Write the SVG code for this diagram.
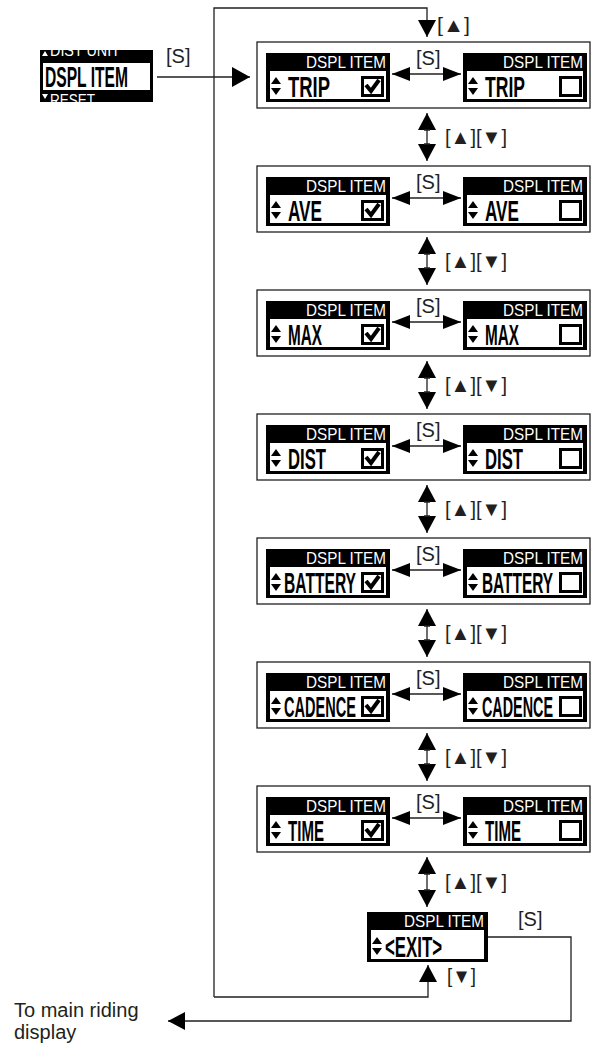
<svg xmlns="http://www.w3.org/2000/svg" xmlns:xlink="http://www.w3.org/1999/xlink" width="592" height="1043" viewBox="0 0 592 1043">
<style>
.frame{fill:#fff;stroke:#231f20;stroke-width:1.3}
.lcd{fill:#000}
.scr{fill:#fff}
.hdr{font-family:"Liberation Sans",Arial,sans-serif;font-size:17px;fill:#fff}
.big{font-family:"Liberation Sans",Arial,sans-serif;font-size:29px;font-weight:bold;fill:#000}
.lbl{font-family:"Liberation Sans",Arial,sans-serif;font-size:20px;fill:#231f20}
.ln{fill:none;stroke:#231f20;stroke-width:1.3}
</style>
<defs>
<marker id="ahS" markerUnits="userSpaceOnUse" markerWidth="18" markerHeight="16" refX="18" refY="8" orient="auto-start-reverse"><path d="M0,1 L18,8 L0,15 Z" fill="#000"/></marker>
<marker id="ahV" markerUnits="userSpaceOnUse" markerWidth="17" markerHeight="18" refX="17" refY="9" orient="auto-start-reverse"><path d="M0,0 L17,9 L0,18 Z" fill="#000"/></marker>
<marker id="ahL" markerUnits="userSpaceOnUse" markerWidth="18" markerHeight="20" refX="18" refY="10" orient="auto"><path d="M0,0 L18,10 L0,20 Z" fill="#000"/></marker>
<g id="ud"><polygon points="0,7 10,7 5,0"/><polygon points="0,11 10,11 5,18"/></g>
<g id="chk"><rect x="1.5" y="1.5" width="20" height="18" fill="#fff" stroke="#000" stroke-width="3"/><polyline points="5,9 10,15 18,4" fill="none" stroke="#000" stroke-width="4"/></g>
<g id="box"><rect x="1.5" y="1.5" width="20" height="18" fill="#fff" stroke="#000" stroke-width="3"/></g>
<clipPath id="c0"><rect x="40" y="50" width="113" height="52"/></clipPath>
</defs>

<g id="menu-start" clip-path="url(#c0)">
<rect class="lcd" x="40" y="50" width="113" height="52"/>
<polygon points="42,56 48,56 45,51" fill="#fff"/>
<text class="hdr" x="50" y="56" textLength="70" lengthAdjust="spacingAndGlyphs">DIST UNIT</text>
<rect class="scr" x="43" y="63" width="107" height="27"/>
<text class="big" x="45" y="87" textLength="83" lengthAdjust="spacingAndGlyphs">DSPL ITEM</text>
<polygon points="42,94 48,94 45,99" fill="#fff"/>
<text class="hdr" x="50" y="106" textLength="45" lengthAdjust="spacingAndGlyphs">RESET</text>
</g>

<g id="row-trip">
<rect class="frame" x="257" y="42" width="333" height="66"/>
<rect class="lcd" x="266" y="53" width="124" height="49"/><rect class="scr" x="270" y="71" width="116" height="28"/>
<text class="hdr" x="306" y="68" textLength="80" lengthAdjust="spacingAndGlyphs">DSPL ITEM</text>
<use href="#ud" x="271" y="77"/><text class="big" x="288" y="97" textLength="42" lengthAdjust="spacingAndGlyphs">TRIP</text><use href="#chk" x="361" y="76"/>
<rect class="lcd" x="463" y="53" width="124" height="49"/><rect class="scr" x="467" y="71" width="116" height="28"/>
<text class="hdr" x="503" y="68" textLength="80" lengthAdjust="spacingAndGlyphs">DSPL ITEM</text>
<use href="#ud" x="468" y="77"/><text class="big" x="485" y="97" textLength="40" lengthAdjust="spacingAndGlyphs">TRIP</text><use href="#box" x="559" y="76"/>
</g>

<g id="row-ave">
<rect class="frame" x="257" y="166" width="333" height="66"/>
<rect class="lcd" x="266" y="177" width="124" height="49"/><rect class="scr" x="270" y="195" width="116" height="28"/>
<text class="hdr" x="306" y="192" textLength="80" lengthAdjust="spacingAndGlyphs">DSPL ITEM</text>
<use href="#ud" x="271" y="201"/><text class="big" x="288" y="221" textLength="34" lengthAdjust="spacingAndGlyphs">AVE</text><use href="#chk" x="361" y="200"/>
<rect class="lcd" x="463" y="177" width="124" height="49"/><rect class="scr" x="467" y="195" width="116" height="28"/>
<text class="hdr" x="503" y="192" textLength="80" lengthAdjust="spacingAndGlyphs">DSPL ITEM</text>
<use href="#ud" x="468" y="201"/><text class="big" x="485" y="221" textLength="34" lengthAdjust="spacingAndGlyphs">AVE</text><use href="#box" x="559" y="200"/>
</g>

<g id="row-max">
<rect class="frame" x="257" y="290" width="333" height="66"/>
<rect class="lcd" x="266" y="301" width="124" height="49"/><rect class="scr" x="270" y="319" width="116" height="28"/>
<text class="hdr" x="306" y="316" textLength="80" lengthAdjust="spacingAndGlyphs">DSPL ITEM</text>
<use href="#ud" x="271" y="325"/><text class="big" x="288" y="345" textLength="34" lengthAdjust="spacingAndGlyphs">MAX</text><use href="#chk" x="361" y="324"/>
<rect class="lcd" x="463" y="301" width="124" height="49"/><rect class="scr" x="467" y="319" width="116" height="28"/>
<text class="hdr" x="503" y="316" textLength="80" lengthAdjust="spacingAndGlyphs">DSPL ITEM</text>
<use href="#ud" x="468" y="325"/><text class="big" x="485" y="345" textLength="34" lengthAdjust="spacingAndGlyphs">MAX</text><use href="#box" x="559" y="324"/>
</g>

<g id="row-dist">
<rect class="frame" x="257" y="414" width="333" height="66"/>
<rect class="lcd" x="266" y="425" width="124" height="49"/><rect class="scr" x="270" y="443" width="116" height="28"/>
<text class="hdr" x="306" y="440" textLength="80" lengthAdjust="spacingAndGlyphs">DSPL ITEM</text>
<use href="#ud" x="271" y="449"/><text class="big" x="288" y="469" textLength="38" lengthAdjust="spacingAndGlyphs">DIST</text><use href="#chk" x="361" y="448"/>
<rect class="lcd" x="463" y="425" width="124" height="49"/><rect class="scr" x="467" y="443" width="116" height="28"/>
<text class="hdr" x="503" y="440" textLength="80" lengthAdjust="spacingAndGlyphs">DSPL ITEM</text>
<use href="#ud" x="468" y="449"/><text class="big" x="485" y="469" textLength="38" lengthAdjust="spacingAndGlyphs">DIST</text><use href="#box" x="559" y="448"/>
</g>

<g id="row-battery">
<rect class="frame" x="257" y="538" width="333" height="66"/>
<rect class="lcd" x="266" y="549" width="124" height="49"/><rect class="scr" x="270" y="567" width="116" height="28"/>
<text class="hdr" x="306" y="564" textLength="80" lengthAdjust="spacingAndGlyphs">DSPL ITEM</text>
<use href="#ud" x="271" y="573"/><text class="big" x="284" y="593" textLength="72" lengthAdjust="spacingAndGlyphs">BATTERY</text><use href="#chk" x="361" y="572"/>
<rect class="lcd" x="463" y="549" width="124" height="49"/><rect class="scr" x="467" y="567" width="116" height="28"/>
<text class="hdr" x="503" y="564" textLength="80" lengthAdjust="spacingAndGlyphs">DSPL ITEM</text>
<use href="#ud" x="468" y="573"/><text class="big" x="482" y="593" textLength="71" lengthAdjust="spacingAndGlyphs">BATTERY</text><use href="#box" x="559" y="572"/>
</g>

<g id="row-cadence">
<rect class="frame" x="257" y="662" width="333" height="66"/>
<rect class="lcd" x="266" y="673" width="124" height="49"/><rect class="scr" x="270" y="691" width="116" height="28"/>
<text class="hdr" x="306" y="688" textLength="80" lengthAdjust="spacingAndGlyphs">DSPL ITEM</text>
<use href="#ud" x="271" y="697"/><text class="big" x="284" y="717" textLength="72" lengthAdjust="spacingAndGlyphs">CADENCE</text><use href="#chk" x="361" y="696"/>
<rect class="lcd" x="463" y="673" width="124" height="49"/><rect class="scr" x="467" y="691" width="116" height="28"/>
<text class="hdr" x="503" y="688" textLength="80" lengthAdjust="spacingAndGlyphs">DSPL ITEM</text>
<use href="#ud" x="468" y="697"/><text class="big" x="482" y="717" textLength="71" lengthAdjust="spacingAndGlyphs">CADENCE</text><use href="#box" x="559" y="696"/>
</g>

<g id="row-time">
<rect class="frame" x="257" y="786" width="333" height="66"/>
<rect class="lcd" x="266" y="797" width="124" height="49"/><rect class="scr" x="270" y="815" width="116" height="28"/>
<text class="hdr" x="306" y="812" textLength="80" lengthAdjust="spacingAndGlyphs">DSPL ITEM</text>
<use href="#ud" x="271" y="821"/><text class="big" x="288" y="841" textLength="36" lengthAdjust="spacingAndGlyphs">TIME</text><use href="#chk" x="361" y="820"/>
<rect class="lcd" x="463" y="797" width="124" height="49"/><rect class="scr" x="467" y="815" width="116" height="28"/>
<text class="hdr" x="503" y="812" textLength="80" lengthAdjust="spacingAndGlyphs">DSPL ITEM</text>
<use href="#ud" x="468" y="821"/><text class="big" x="485" y="841" textLength="36" lengthAdjust="spacingAndGlyphs">TIME</text><use href="#box" x="559" y="820"/>
</g>

<g id="exit">
<rect class="lcd" x="367" y="912" width="121" height="50"/><rect class="scr" x="371" y="930" width="113" height="29"/>
<text class="hdr" x="404" y="927" textLength="80" lengthAdjust="spacingAndGlyphs">DSPL ITEM</text>
<use href="#ud" x="372" y="937"/><text class="big" x="385" y="957" textLength="57" lengthAdjust="spacingAndGlyphs">&lt;EXIT&gt;</text>
</g>

<g id="connectors">
<line class="ln" x1="157" y1="77" x2="250" y2="77" marker-end="url(#ahL)"/>
<polyline class="ln" points="214,997 214,8 427,8 427,37" marker-end="url(#ahV)"/>
<polyline class="ln" points="214,997 428,997 428,965" marker-end="url(#ahV)"/>
<polyline class="ln" points="488,937 571,937 571,1021 168,1021" marker-end="url(#ahV)"/>
<line class="ln" x1="392" y1="74" x2="461" y2="74" marker-start="url(#ahS)" marker-end="url(#ahS)"/>
<line class="ln" x1="392" y1="198" x2="461" y2="198" marker-start="url(#ahS)" marker-end="url(#ahS)"/>
<line class="ln" x1="392" y1="322" x2="461" y2="322" marker-start="url(#ahS)" marker-end="url(#ahS)"/>
<line class="ln" x1="392" y1="446" x2="461" y2="446" marker-start="url(#ahS)" marker-end="url(#ahS)"/>
<line class="ln" x1="392" y1="570" x2="461" y2="570" marker-start="url(#ahS)" marker-end="url(#ahS)"/>
<line class="ln" x1="392" y1="694" x2="461" y2="694" marker-start="url(#ahS)" marker-end="url(#ahS)"/>
<line class="ln" x1="392" y1="818" x2="461" y2="818" marker-start="url(#ahS)" marker-end="url(#ahS)"/>
<line class="ln" x1="427" y1="113" x2="427" y2="161" marker-start="url(#ahV)" marker-end="url(#ahV)"/>
<line class="ln" x1="427" y1="237" x2="427" y2="285" marker-start="url(#ahV)" marker-end="url(#ahV)"/>
<line class="ln" x1="427" y1="361" x2="427" y2="409" marker-start="url(#ahV)" marker-end="url(#ahV)"/>
<line class="ln" x1="427" y1="485" x2="427" y2="533" marker-start="url(#ahV)" marker-end="url(#ahV)"/>
<line class="ln" x1="427" y1="609" x2="427" y2="657" marker-start="url(#ahV)" marker-end="url(#ahV)"/>
<line class="ln" x1="427" y1="733" x2="427" y2="781" marker-start="url(#ahV)" marker-end="url(#ahV)"/>
<line class="ln" x1="427" y1="857" x2="427" y2="907" marker-start="url(#ahV)" marker-end="url(#ahV)"/>
<path class="ln" d="M424,130h6M424,144h6M424,254h6M424,268h6M424,378h6M424,392h6M424,502h6M424,516h6M424,626h6M424,640h6M424,750h6M424,764h6M424,874h6M424,890h6"/>
</g>

<g id="labels">
<text class="lbl" x="166" y="63">[S]</text>
<text class="lbl" x="437" y="32" textLength="33" lengthAdjust="spacingAndGlyphs">[▲]</text>
<text class="lbl" x="416" y="65">[S]</text>
<text class="lbl" x="416" y="189">[S]</text>
<text class="lbl" x="416" y="313">[S]</text>
<text class="lbl" x="416" y="437">[S]</text>
<text class="lbl" x="416" y="561">[S]</text>
<text class="lbl" x="416" y="685">[S]</text>
<text class="lbl" x="416" y="809">[S]</text>
<text class="lbl" x="445" y="144" textLength="62" lengthAdjust="spacingAndGlyphs">[▲][▼]</text>
<text class="lbl" x="445" y="268" textLength="62" lengthAdjust="spacingAndGlyphs">[▲][▼]</text>
<text class="lbl" x="445" y="392" textLength="62" lengthAdjust="spacingAndGlyphs">[▲][▼]</text>
<text class="lbl" x="445" y="516" textLength="62" lengthAdjust="spacingAndGlyphs">[▲][▼]</text>
<text class="lbl" x="445" y="640" textLength="62" lengthAdjust="spacingAndGlyphs">[▲][▼]</text>
<text class="lbl" x="445" y="764" textLength="62" lengthAdjust="spacingAndGlyphs">[▲][▼]</text>
<text class="lbl" x="445" y="889" textLength="62" lengthAdjust="spacingAndGlyphs">[▲][▼]</text>
<text class="lbl" x="518" y="926">[S]</text>
<text class="lbl" x="447" y="983" textLength="29" lengthAdjust="spacingAndGlyphs">[▼]</text>
<text class="lbl" x="14" y="1017">To main riding</text>
<text class="lbl" x="14" y="1039">display</text>
</g>
</svg>
